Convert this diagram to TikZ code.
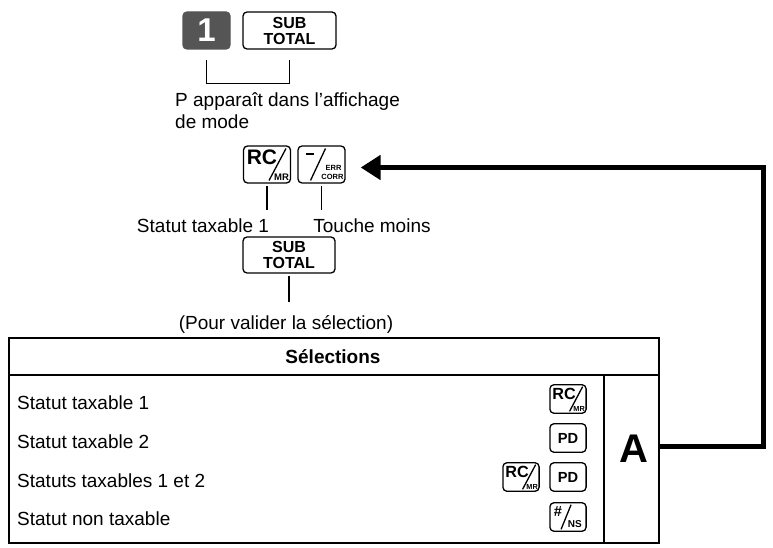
\documentclass[tikz,border=0pt]{standalone}
\usepackage{fontspec}
\setmainfont{Liberation Sans}
\usetikzlibrary{arrows.meta}
\newcommand\myfs[1]{\fontsize{#1}{#1}\selectfont}
\definecolor{keygray}{RGB}{85,85,85}
\tikzset{
 keyframe/.style={draw, line width=1.3pt, rounded corners=4pt, minimum width=47pt, minimum height=37pt, inner sep=0pt},
 widekey/.style={minimum width=93pt, font=\bfseries\fontsize{16}{16}\selectfont, align=center},
 lbl/.style={inner sep=0pt, font=\myfs{19}},
 thinline/.style={line width=1.2pt},
 conn/.style={line width=5pt, -{Triangle[length=20pt,width=24pt]}},
 rulel/.style={line width=2pt},
 smallkey/.style={scale=0.77, transform shape},
 rcmr/.pic={
   \node[keyframe] (-box) at (0,0) {};
   \node[inner sep=0pt, font=\bfseries\myfs{21}] (-rc) at (-5,-7) {RC};
   \draw[line width=1.3pt] (19,-16) -- (2,16);
   \node[inner sep=0pt, font=\bfseries\myfs{9.5}] (-mr) at (14.5,12.5) {MR};
 },
 errcorr/.pic={
   \node[keyframe] (-box) at (0,0) {};
   \draw[line width=2pt] (-16,-10) -- (-8,-10);
   \draw[line width=1.3pt] (4,-16) -- (-11,16);
   \node[inner sep=0pt, font=\bfseries\myfs{7.5}] (-err) at (12,3) {ERR};
   \node[inner sep=0pt, font=\bfseries\myfs{7.5}] (-corr) at (11,12) {CORR};
 },
 pdkey/.pic={
   \node[keyframe, font=\bfseries\myfs{19}] (-box) at (0,0) {PD};
 },
 nskey/.pic={
   \node[keyframe] (-box) at (0,0) {};
   \node[inner sep=0pt, font=\bfseries\myfs{19}] (-hash) at (-13,-7) {\#};
   \draw[line width=1.3pt] (4,-16) -- (-9,16);
   \node[inner sep=0pt, font=\bfseries\myfs{13}] (-ns) at (9,9) {NS};
 },
}
\begin{document}
\begin{tikzpicture}[x=1pt,y=-1pt]
\useasboundingbox (0,0) rectangle (773,548);

% top keys
\node[keyframe, fill=keygray, draw=keygray, text=white, font=\bfseries\myfs{33}] (kone) at (206.5,30.5) {1};
\node[keyframe, widekey] (ksub1) at (289.5,30.5) {SUB\\TOTAL};
\draw[thinline] ([yshift=-10pt]kone.south) -- ++(0,24) -| ([yshift=-10pt]ksub1.south);
\node[lbl, anchor=base west] (ptext1) at (175,107) {P apparaît dans l’affichage};
\node[lbl, anchor=base west] (ptext2) at (175,129) {de mode};

% middle keys
\pic (krc) at (267,164.5) {rcmr};
\pic (kerr) at (321.5,164.5) {errcorr};
\draw[thinline] ([yshift=-2pt]krc-box.south) -- ++(0,24);
\draw[thinline] ([yshift=-2pt]kerr-box.south) -- ++(0,24);
\node[lbl, anchor=base] (tax1) at (203,232) {Statut taxable 1};
\node[lbl, anchor=base] (moins) at (372,232) {Touche moins};
\node[keyframe, widekey, minimum width=92pt, minimum height=36pt] (ksub2) at (289,255) {SUB\\TOTAL};
\draw[thinline] ([yshift=-2pt]ksub2.south) -- ++(0,26);
\node[lbl, anchor=base] (valid) at (286,329) {(Pour valider la sélection)};

% table
\node[draw, rulel, minimum width=650pt, minimum height=205pt, anchor=north west, inner sep=0pt] (tbl) at (8,337) {};
\draw[rulel] (8,375) -- (658,375);
\node[minimum width=54pt, minimum height=167pt, anchor=north west, inner sep=0pt] (acell) at (604,375) {};
\draw[rulel] (acell.north west) -- (acell.south west);
\node[lbl, anchor=base, font=\bfseries\myfs{19}] (head) at (333,363) {Sélections};
\node[inner sep=0pt, font=\bfseries\myfs{40}] (aletter) at (633.5,449) {A};

\node[lbl, anchor=base west] (r1) at (17,409) {Statut taxable 1};
\node[lbl, anchor=base west] (r2) at (17,448) {Statut taxable 2};
\node[lbl, anchor=base west] (r3) at (17,487) {Statuts taxables 1 et 2};
\node[lbl, anchor=base west] (r4) at (17,525) {Statut non taxable};

\pic[smallkey] (t1) at (568,399) {rcmr};
\pic[smallkey] (t2) at (568,438) {pdkey};
\pic[smallkey] (t3a) at (521,477) {rcmr};
\pic[smallkey] (t3b) at (568,477) {pdkey};
\pic[smallkey] (t4) at (568,517) {nskey};

% connector
\draw[conn] (acell.east |- 0,446) -- ++(105,0) |- ([xshift=15pt,yshift=-3pt]kerr-box.east);
\end{tikzpicture}
\end{document}
